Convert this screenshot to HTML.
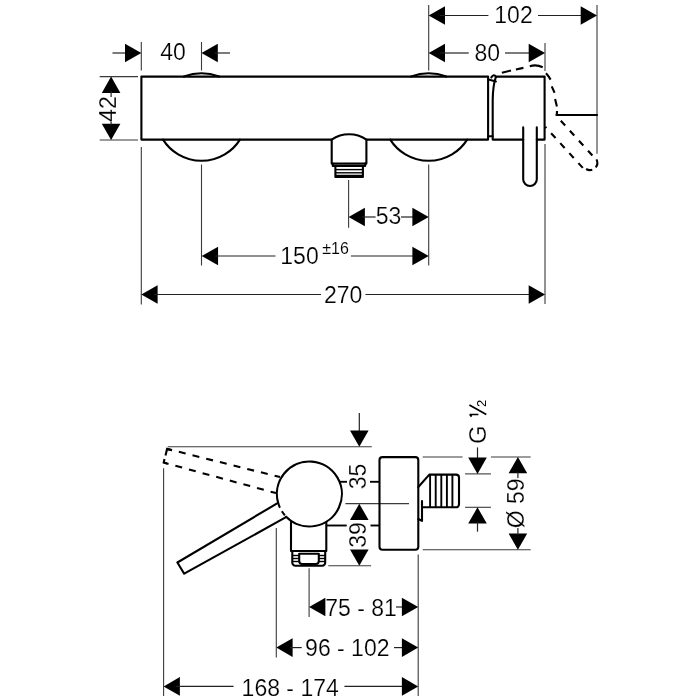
<!DOCTYPE html><html><head><meta charset="utf-8"><style>html,body{margin:0;padding:0;background:#fff;}svg{display:block;will-change:transform;}text{font-family:"Liberation Sans",sans-serif;fill:#000;stroke:#fff;stroke-width:0.2px;}</style></head><body>
<svg width="700" height="700" viewBox="0 0 700 700">
<rect width="700" height="700" fill="#fff"/>
<line x1="141.3" y1="42" x2="141.3" y2="70.5" stroke="#3a3a3a" stroke-width="1.1" fill="none"/>
<line x1="141.3" y1="147" x2="141.3" y2="304.5" stroke="#3a3a3a" stroke-width="1.1" fill="none"/>
<line x1="201.5" y1="42" x2="201.5" y2="70.5" stroke="#3a3a3a" stroke-width="1.1" fill="none"/>
<line x1="201.5" y1="164.5" x2="201.5" y2="265.5" stroke="#3a3a3a" stroke-width="1.1" fill="none"/>
<line x1="428.7" y1="5" x2="428.7" y2="70.5" stroke="#3a3a3a" stroke-width="1.1" fill="none"/>
<line x1="428.7" y1="164.5" x2="428.7" y2="265.5" stroke="#3a3a3a" stroke-width="1.1" fill="none"/>
<line x1="348.6" y1="180" x2="348.6" y2="227.7" stroke="#3a3a3a" stroke-width="1.1" fill="none"/>
<line x1="545" y1="43" x2="545" y2="71" stroke="#3a3a3a" stroke-width="1.1" fill="none"/>
<line x1="545" y1="144" x2="545" y2="304" stroke="#3a3a3a" stroke-width="1.1" fill="none"/>
<line x1="597" y1="5" x2="597" y2="153.7" stroke="#3a3a3a" stroke-width="1.1" fill="none"/>
<line x1="99.7" y1="76.6" x2="138" y2="76.6" stroke="#3a3a3a" stroke-width="1.1" fill="none"/>
<line x1="99.7" y1="140" x2="138" y2="140" stroke="#3a3a3a" stroke-width="1.1" fill="none"/>
<line x1="112.5" y1="53" x2="128" y2="53" stroke="#222" stroke-width="1.2" fill="none"/>
<polygon points="141.30,53.00 125.00,43.70 125.00,62.30" fill="#000"/>
<polygon points="201.50,53.00 217.80,43.70 217.80,62.30" fill="#000"/>
<line x1="215" y1="53" x2="230" y2="53" stroke="#222" stroke-width="1.2" fill="none"/>
<text x="173" y="60.3" font-size="23" text-anchor="middle" >40</text>
<polygon points="111.10,76.60 101.80,92.90 120.40,92.90" fill="#000"/>
<polygon points="111.10,140.00 101.80,123.70 120.40,123.70" fill="#000"/>
<line x1="111.1" y1="91" x2="111.1" y2="97" stroke="#222" stroke-width="1.2" fill="none"/>
<line x1="111.1" y1="120.5" x2="111.1" y2="125" stroke="#222" stroke-width="1.2" fill="none"/>
<text transform="translate(108.1,108.9) rotate(-90)" x="0" y="8.35" font-size="23" text-anchor="middle" >42</text>
<polygon points="428.70,15.50 445.00,6.20 445.00,24.80" fill="#000"/>
<line x1="440" y1="15.5" x2="488.4" y2="15.5" stroke="#222" stroke-width="1.2" fill="none"/>
<text x="513.5" y="23" font-size="23" text-anchor="middle" >102</text>
<line x1="538" y1="15.5" x2="585" y2="15.5" stroke="#222" stroke-width="1.2" fill="none"/>
<polygon points="597.00,15.50 580.70,6.20 580.70,24.80" fill="#000"/>
<polygon points="428.70,53.00 445.00,43.70 445.00,62.30" fill="#000"/>
<line x1="440" y1="53" x2="468.75" y2="53" stroke="#222" stroke-width="1.2" fill="none"/>
<text x="487.2" y="60.5" font-size="23" text-anchor="middle" >80</text>
<line x1="505" y1="53" x2="532" y2="53" stroke="#222" stroke-width="1.2" fill="none"/>
<polygon points="545.00,53.00 528.70,43.70 528.70,62.30" fill="#000"/>
<polygon points="348.60,217.00 364.90,207.70 364.90,226.30" fill="#000"/>
<line x1="362" y1="217" x2="375.6" y2="217" stroke="#222" stroke-width="1.2" fill="none"/>
<text x="388.5" y="223.8" font-size="23" text-anchor="middle" >53</text>
<line x1="401" y1="217" x2="415" y2="217" stroke="#222" stroke-width="1.2" fill="none"/>
<polygon points="428.70,217.00 412.40,207.70 412.40,226.30" fill="#000"/>
<polygon points="201.75,256.00 218.05,246.70 218.05,265.30" fill="#000"/>
<line x1="215" y1="256" x2="275.5" y2="256" stroke="#222" stroke-width="1.2" fill="none"/>
<text x="299.5" y="263.8" font-size="23" text-anchor="middle" >150</text>
<text x="335.6" y="254.4" font-size="16" text-anchor="middle" style="stroke-width:0.1px">±16</text>
<line x1="350.9" y1="256" x2="415" y2="256" stroke="#222" stroke-width="1.2" fill="none"/>
<polygon points="428.70,256.00 412.40,246.70 412.40,265.30" fill="#000"/>
<polygon points="141.30,294.50 157.60,285.20 157.60,303.80" fill="#000"/>
<line x1="154" y1="294.5" x2="321" y2="294.5" stroke="#222" stroke-width="1.2" fill="none"/>
<text x="343.2" y="303.2" font-size="23" text-anchor="middle" >270</text>
<line x1="365.5" y1="294.5" x2="532" y2="294.5" stroke="#222" stroke-width="1.2" fill="none"/>
<polygon points="545.00,294.50 528.70,285.20 528.70,303.80" fill="#000"/>
<path d="M488.1,76.6 H141.4 V139.6 H331.7 M366.4,139.6 H488.1 V76.6" stroke="#000" stroke-width="2.1" fill="none" stroke-linejoin="round" stroke-linecap="round"/>
<path d="M183.90,76.6 A50,50 0 0 1 219.10,76.6" stroke="#000" stroke-width="2.1" fill="none" stroke-linejoin="round" stroke-linecap="round"/>
<path d="M163.03,139.6 A45.5,45.5 0 0 0 239.97,139.6" stroke="#000" stroke-width="2.1" fill="none" stroke-linejoin="round" stroke-linecap="round"/>
<path d="M411.10,76.6 A50,50 0 0 1 446.30,76.6" stroke="#000" stroke-width="2.1" fill="none" stroke-linejoin="round" stroke-linecap="round"/>
<path d="M390.23,139.6 A45.5,45.5 0 0 0 467.17,139.6" stroke="#000" stroke-width="2.1" fill="none" stroke-linejoin="round" stroke-linecap="round"/>
<path d="M331.7,139.6 V163.6 H366.4 V139.6 A31,31 0 0 0 331.7,139.6" stroke="#000" stroke-width="2.1" fill="none" stroke-linejoin="round" stroke-linecap="round"/>
<path d="M332.8,163.6 V166 H365.2 V163.6" stroke="#000" stroke-width="2.1" fill="none" stroke-linejoin="round" stroke-linecap="round"/>
<path d="M335.4,166 V177 H362.9 V166" stroke="#000" stroke-width="2.1" fill="none" stroke-linejoin="round" stroke-linecap="round"/>
<line x1="335.4" y1="169.6" x2="362.9" y2="169.6" stroke="#000" stroke-width="1.4"/>
<line x1="335.4" y1="172.8" x2="362.9" y2="172.8" stroke="#000" stroke-width="1.4"/>
<line x1="335.4" y1="176" x2="362.9" y2="176" stroke="#000" stroke-width="2.5"/>
<path d="M496,76.6 H544.6 V139.6 H536.8 M523.2,139.6 H492.7 V100 Q492.9,85 496,76.6" stroke="#000" stroke-width="2.1" fill="none" stroke-linejoin="round" stroke-linecap="round"/>
<path d="M488.5,79.4 L495.9,81.4 M488.1,136.3 H492.7" stroke="#000" stroke-width="2.1" fill="none" stroke-linejoin="round" stroke-linecap="round"/>
<path d="M491.3,77.3 Q494,73.5 496,77" stroke="#000" stroke-width="2.1" fill="none" stroke-linejoin="round" stroke-linecap="round"/>
<path d="M523.2,127.4 V179.2 A6.8,6.8 0 0 0 536.8,179.2 V127.4" stroke="#000" stroke-width="2.1" fill="none" stroke-linejoin="round" stroke-linecap="round"/>
<path d="M501.9,72.7 L511,70.5 M515.9,69.5 L523.4,67.9 M529.8,66.3 Q536.2,64 542.7,67.3 M546,73.3 Q548.5,76 550.6,79.6 M551.7,86.4 L554.6,92.7 M555.1,99 L556.9,106.4 M557,111 L556.8,115.6" stroke="#000" stroke-width="2.1" fill="none"/>
<path d="M556.5,116 L594,157.3" stroke="#000" stroke-width="2.1" fill="none" stroke-dasharray="6.5 7" stroke-dashoffset="7.1"/>
<path d="M545.4,126.9 L584,169.2" stroke="#000" stroke-width="2.1" fill="none" stroke-dasharray="6.5 7" stroke-dashoffset="5"/>
<path d="M596.45,159.37 A7.3,7.3 0 0 1 595.75,167.29" stroke="#000" stroke-width="2.1" fill="none"/>
<path d="M592.26,169.74 A7.3,7.3 0 0 1 586.13,168.99" stroke="#000" stroke-width="2.1" fill="none"/>
<path d="M556.5,115 H597" stroke="#000" stroke-width="2.1" fill="none" stroke-linejoin="round" stroke-linecap="round"/>
<line x1="167.7" y1="446.8" x2="371.8" y2="446.8" stroke="#3a3a3a" stroke-width="1.1" fill="none"/>
<line x1="163.6" y1="468.3" x2="163.6" y2="696" stroke="#3a3a3a" stroke-width="1.1" fill="none"/>
<line x1="276.3" y1="528" x2="276.3" y2="657.6" stroke="#3a3a3a" stroke-width="1.1" fill="none"/>
<line x1="309.1" y1="568.3" x2="309.1" y2="617" stroke="#3a3a3a" stroke-width="1.1" fill="none"/>
<line x1="418.2" y1="554.5" x2="418.2" y2="696" stroke="#3a3a3a" stroke-width="1.1" fill="none"/>
<line x1="328.3" y1="565.7" x2="371.1" y2="565.7" stroke="#3a3a3a" stroke-width="1.1" fill="none"/>
<line x1="326" y1="525.5" x2="346.7" y2="525.5" stroke="#000" stroke-width="1.9"/>
<line x1="370.5" y1="525.5" x2="379.5" y2="525.5" stroke="#000" stroke-width="1.9"/>
<line x1="340" y1="481.8" x2="347" y2="481.8" stroke="#000" stroke-width="1.9"/>
<line x1="370" y1="481.8" x2="380" y2="481.8" stroke="#000" stroke-width="1.9"/>
<line x1="345.4" y1="503.6" x2="409" y2="503.6" stroke="#3a3a3a" stroke-width="1.1" fill="none"/>
<line x1="422.7" y1="457" x2="462.6" y2="457" stroke="#3a3a3a" stroke-width="1.1" fill="none"/>
<line x1="490.9" y1="457" x2="530.7" y2="457" stroke="#3a3a3a" stroke-width="1.1" fill="none"/>
<line x1="422.7" y1="549.7" x2="530.7" y2="549.7" stroke="#3a3a3a" stroke-width="1.1" fill="none"/>
<line x1="465.1" y1="473.9" x2="490.9" y2="473.9" stroke="#3a3a3a" stroke-width="1.1" fill="none"/>
<line x1="465.1" y1="507.3" x2="490.9" y2="507.3" stroke="#3a3a3a" stroke-width="1.1" fill="none"/>
<line x1="359.3" y1="412.9" x2="359.3" y2="431" stroke="#222" stroke-width="1.2" fill="none"/>
<polygon points="359.30,446.80 350.00,430.50 368.60,430.50" fill="#000"/>
<text transform="translate(357.2,476.5) rotate(-90)" x="0" y="8.35" font-size="23" text-anchor="middle" >35</text>
<polygon points="359.30,503.70 350.00,520.00 368.60,520.00" fill="#000"/>
<text transform="translate(357.4,534.9) rotate(-90)" x="0" y="8.35" font-size="23" text-anchor="middle" >39</text>
<polygon points="359.30,565.70 350.00,549.40 368.60,549.40" fill="#000"/>
<line x1="477.5" y1="447.4" x2="477.5" y2="459" stroke="#222" stroke-width="1.2" fill="none"/>
<polygon points="477.50,473.90 468.20,457.60 486.80,457.60" fill="#000"/>
<polygon points="477.50,507.30 468.20,523.60 486.80,523.60" fill="#000"/>
<line x1="477.5" y1="522" x2="477.5" y2="531.7" stroke="#222" stroke-width="1.2" fill="none"/>
<text transform="translate(477.8,434.6) rotate(-90)" x="0" y="8.50" font-size="24" text-anchor="middle" >G</text>
<text transform="translate(481.6,403.4) rotate(-90)" x="0" y="4.65" font-size="13" text-anchor="middle" style="stroke:none">2</text>
<path d="M469.6,414.5 H478.4 M469.8,414.4 L471.6,416.6 M469.4,404.9 L486.3,414.6" stroke="#000" stroke-width="1.7" fill="none" stroke-linecap="butt"/>
<polygon points="517.90,457.00 508.60,473.30 527.20,473.30" fill="#000"/>
<polygon points="517.90,549.70 508.60,533.40 527.20,533.40" fill="#000"/>
<text transform="translate(515.9,503.4) rotate(-90)" x="0" y="8.35" font-size="23" text-anchor="middle" >Ø 59</text>
<line x1="517.9" y1="472" x2="517.9" y2="478" stroke="#222" stroke-width="1.2" fill="none"/>
<line x1="517.9" y1="528" x2="517.9" y2="535" stroke="#222" stroke-width="1.2" fill="none"/>
<polygon points="309.10,607.00 325.40,597.70 325.40,616.30" fill="#000"/>
<text x="361" y="616" font-size="23" text-anchor="middle" >75 - 81</text>
<line x1="396" y1="607" x2="404" y2="607" stroke="#222" stroke-width="1.2" fill="none"/>
<polygon points="418.20,607.00 401.90,597.70 401.90,616.30" fill="#000"/>
<polygon points="276.30,647.60 292.60,638.30 292.60,656.90" fill="#000"/>
<line x1="290" y1="647.6" x2="301.7" y2="647.6" stroke="#222" stroke-width="1.2" fill="none"/>
<text x="347.3" y="656.4" font-size="23" text-anchor="middle" >96 - 102</text>
<line x1="394" y1="647.6" x2="404" y2="647.6" stroke="#222" stroke-width="1.2" fill="none"/>
<polygon points="418.20,647.60 401.90,638.30 401.90,656.90" fill="#000"/>
<polygon points="163.60,686.40 179.90,677.10 179.90,695.70" fill="#000"/>
<line x1="176" y1="686.4" x2="233.6" y2="686.4" stroke="#222" stroke-width="1.2" fill="none"/>
<text x="290.2" y="696" font-size="23" text-anchor="middle" >168 - 174</text>
<line x1="344.4" y1="686.4" x2="404" y2="686.4" stroke="#222" stroke-width="1.2" fill="none"/>
<polygon points="418.20,686.40 401.90,677.10 401.90,695.70" fill="#000"/>
<path d="M286.13,516.69 A32.5,32.5 0 1 0 278.19,503.08" stroke="#000" stroke-width="2.1" fill="none" stroke-linejoin="round" stroke-linecap="round"/>
<path d="M278.19,503.08 A32.5,32.5 0 0 0 286.13,516.69" stroke="#000" stroke-width="2" fill="none" stroke-dasharray="5 4"/>
<path d="M277.1,503.4 L177.4,562.5 L184.2,573.7 L285.1,517.7" stroke="#000" stroke-width="2.1" fill="none" stroke-linejoin="round" stroke-linecap="round"/>
<path d="M167.1,448.9 L280,477.1" stroke="#000" stroke-width="2.1" fill="none" stroke-dasharray="7 7.1" stroke-dashoffset="2"/>
<path d="M163.7,462.6 L276,493.1" stroke="#000" stroke-width="2.1" fill="none" stroke-dasharray="7 7.1" stroke-dashoffset="2"/>
<path d="M172,450.2 L167.1,448.9 L165.5,455.5 M164.5,459 L163.7,462.6 L167,463.5" stroke="#000" stroke-width="2.1" fill="none"/>
<path d="M291,521.2 V551 H326.3 V522.5" stroke="#000" stroke-width="2.1" fill="none" stroke-linejoin="round" stroke-linecap="round"/>
<path d="M292.3,551 V562.7 A3,3 0 0 0 295.3,565.7 H322.2 A3,3 0 0 0 325.2,562.7 V551" stroke="#000" stroke-width="2.1" fill="none" stroke-linejoin="round" stroke-linecap="round"/>
<path d="M299.2,553.7 H318.8 V561 A3,3 0 0 1 315.8,564 H302.2 A3,3 0 0 1 299.2,561 Z" stroke="#000" stroke-width="2.1" fill="none" stroke-linejoin="round" stroke-linecap="round"/>
<line x1="292.3" y1="555.5" x2="299" y2="555.5" stroke="#000" stroke-width="1.4"/>
<line x1="318.9" y1="555.5" x2="325.2" y2="555.5" stroke="#000" stroke-width="1.4"/>
<line x1="292.3" y1="558.5" x2="299" y2="558.5" stroke="#000" stroke-width="1.4"/>
<line x1="318.9" y1="558.5" x2="325.2" y2="558.5" stroke="#000" stroke-width="1.4"/>
<line x1="292.3" y1="561.5" x2="299" y2="561.5" stroke="#000" stroke-width="1.4"/>
<line x1="318.9" y1="561.5" x2="325.2" y2="561.5" stroke="#000" stroke-width="1.4"/>
<rect x="379.5" y="457.1" width="38.8" height="92.6" rx="3" stroke="#000" stroke-width="2.1" fill="none" stroke-linejoin="round" stroke-linecap="round"/>
<path d="M418.3,487 L429.3,474.6 H456 A3,3 0 0 1 459,477.6 V504.3 A3,3 0 0 1 456,507.3 H422" stroke="#000" stroke-width="2.1" fill="none" stroke-linejoin="round" stroke-linecap="round"/>
<line x1="430.1" y1="474.6" x2="430.1" y2="507.3" stroke="#000" stroke-width="1.9"/>
<line x1="435.7" y1="474.6" x2="435.7" y2="507.3" stroke="#000" stroke-width="1.9"/>
<line x1="441.3" y1="474.6" x2="441.3" y2="507.3" stroke="#000" stroke-width="1.9"/>
<line x1="446.9" y1="474.6" x2="446.9" y2="507.3" stroke="#000" stroke-width="1.9"/>
<line x1="452.4" y1="474.6" x2="452.4" y2="507.3" stroke="#000" stroke-width="1.9"/>
<path d="M422,501.1 V520.9 L418.3,519" stroke="#000" stroke-width="2.1" fill="none" stroke-linejoin="round" stroke-linecap="round"/>
</svg></body></html>
